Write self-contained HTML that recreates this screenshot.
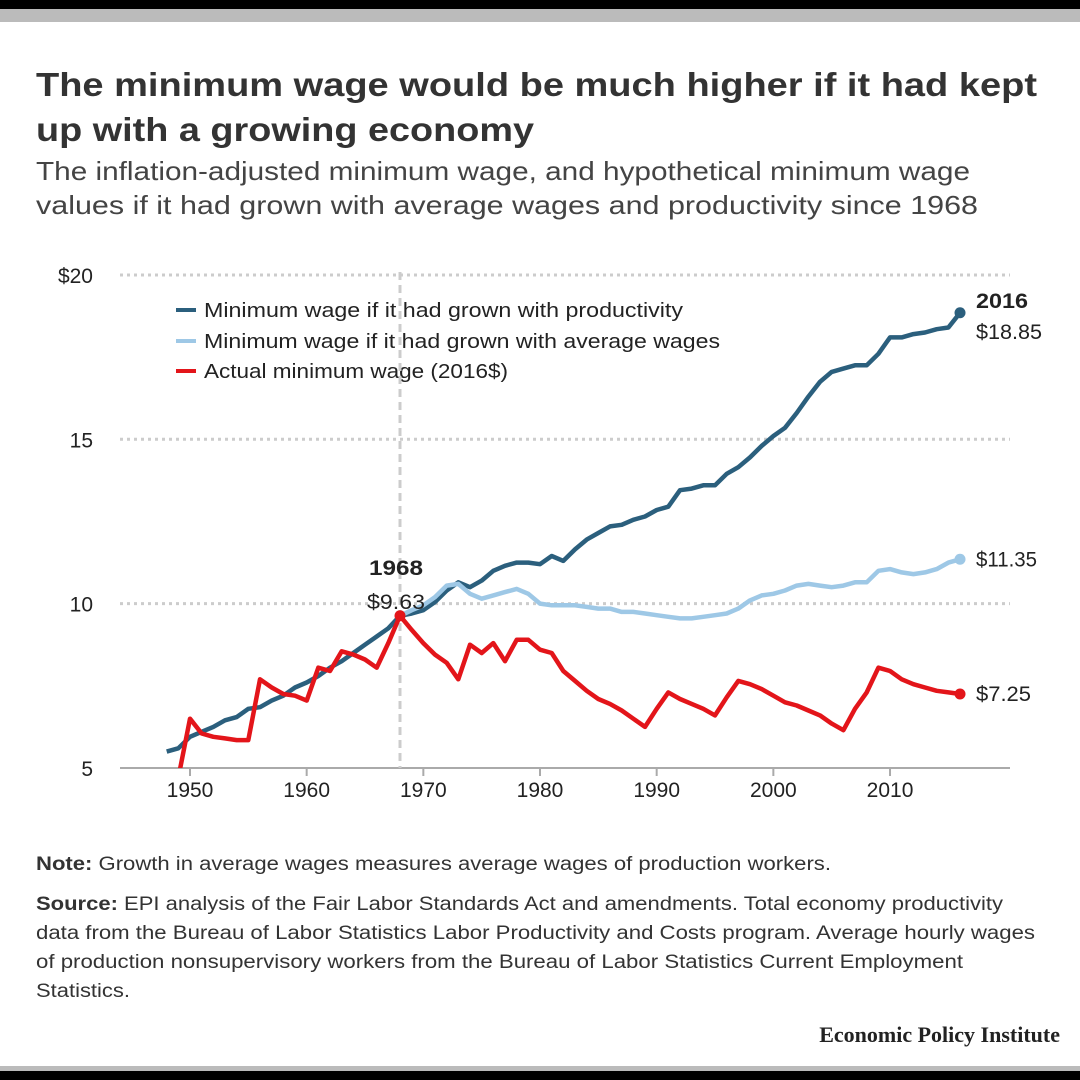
<!DOCTYPE html>
<html><head><meta charset="utf-8"><style>
body{margin:0;background:#fff;}
svg{display:block;font-family:"Liberation Sans",sans-serif;}
</style></head><body>
<svg id="c" width="1080" height="1080" xmlns="http://www.w3.org/2000/svg">
<rect x="0" y="0" width="1080" height="9" fill="#000"/>
<rect x="0" y="9" width="1080" height="13" fill="#bbb"/>
<rect x="0" y="1066" width="1080" height="5" fill="#bbb"/>
<rect x="0" y="1071" width="1080" height="9" fill="#000"/>
<text font-size="33" font-weight="bold" fill="#333"><tspan x="36" y="96" textLength="1001" lengthAdjust="spacingAndGlyphs">The minimum wage would be much higher if it had kept</tspan><tspan x="36" y="141" textLength="498" lengthAdjust="spacingAndGlyphs">up with a growing economy</tspan></text>
<text font-size="26" fill="#444"><tspan x="36" y="180" textLength="934" lengthAdjust="spacingAndGlyphs">The inflation-adjusted minimum wage, and hypothetical minimum wage</tspan><tspan x="36" y="214" textLength="942" lengthAdjust="spacingAndGlyphs">values if it had grown with average wages and productivity since 1968</tspan></text>
<g id="grid"></g>
<g id="axes"></g>
<g>
<rect x="160" y="290" width="580" height="106" fill="#fff" opacity="0.85"/>
<g><line x1="176" y1="310" x2="196" y2="310" stroke="#2b5f7d" stroke-width="4"/><text x="204" y="317" font-size="20" fill="#222" textLength="479" lengthAdjust="spacingAndGlyphs">Minimum wage if it had grown with productivity</text></g>
<g><line x1="176" y1="341" x2="196" y2="341" stroke="#9ec8e6" stroke-width="4"/><text x="204" y="348" font-size="20" fill="#222" textLength="516" lengthAdjust="spacingAndGlyphs">Minimum wage if it had grown with average wages</text></g>
<g><line x1="176" y1="371" x2="196" y2="371" stroke="#e3151a" stroke-width="4"/><text x="204" y="378" font-size="20" fill="#222" textLength="304" lengthAdjust="spacingAndGlyphs">Actual minimum wage (2016$)</text></g>
</g>
<g id="vline"></g>
<g id="series"></g>
<g id="labels"></g>
<text x="36" y="870" font-size="19" fill="#333" textLength="795" lengthAdjust="spacingAndGlyphs"><tspan font-weight="bold">Note:</tspan> Growth in average wages measures average wages of production workers.</text>
<text font-size="19" fill="#333"><tspan x="36" y="910" textLength="967" lengthAdjust="spacingAndGlyphs"><tspan font-weight="bold">Source:</tspan> EPI analysis of the Fair Labor Standards Act and amendments. Total economy productivity</tspan><tspan x="36" y="939" textLength="999" lengthAdjust="spacingAndGlyphs">data from the Bureau of Labor Statistics Labor Productivity and Costs program. Average hourly wages</tspan><tspan x="36" y="968" textLength="927" lengthAdjust="spacingAndGlyphs">of production nonsupervisory workers from the Bureau of Labor Statistics Current Employment</tspan><tspan x="36" y="997" textLength="94" lengthAdjust="spacingAndGlyphs">Statistics.</tspan></text>
<text x="1060" y="1042" text-anchor="end" font-family="Liberation Serif,serif" font-weight="bold" font-size="22" fill="#222">Economic Policy Institute</text>
</svg>
<script>
const prodYears=[1948,1949,1950,1951,1952,1953,1954,1955,1956,1957,1958,1959,1960,1961,1962,1963,1964,1965,1966,1967,1968,1969,1970,1971,1972,1973,1974,1975,1976,1977,1978,1979,1980,1981,1982,1983,1984,1985,1986,1987,1988,1989,1990,1991,1992,1993,1994,1995,1996,1997,1998,1999,2000,2001,2002,2003,2004,2005,2006,2007,2008,2009,2010,2011,2012,2013,2014,2015,2016];
const productivity=[5.5,5.6,5.95,6.1,6.25,6.45,6.55,6.8,6.85,7.05,7.2,7.45,7.6,7.8,8.05,8.25,8.5,8.75,9.0,9.25,9.63,9.7,9.8,10.05,10.4,10.65,10.5,10.7,11.0,11.15,11.25,11.25,11.2,11.45,11.3,11.65,11.95,12.15,12.35,12.4,12.55,12.65,12.85,12.95,13.45,13.5,13.6,13.6,13.95,14.15,14.45,14.8,15.1,15.35,15.8,16.3,16.75,17.05,17.15,17.25,17.25,17.6,18.1,18.1,18.2,18.25,18.35,18.4,18.85];
const avgYears=[1968,1969,1970,1971,1972,1973,1974,1975,1976,1977,1978,1979,1980,1981,1982,1983,1984,1985,1986,1987,1988,1989,1990,1991,1992,1993,1994,1995,1996,1997,1998,1999,2000,2001,2002,2003,2004,2005,2006,2007,2008,2009,2010,2011,2012,2013,2014,2015,2016];
const avgWages=[9.63,9.8,9.95,10.2,10.55,10.6,10.3,10.15,10.25,10.35,10.45,10.3,10.0,9.95,9.95,9.95,9.9,9.85,9.85,9.75,9.75,9.7,9.65,9.6,9.55,9.55,9.6,9.65,9.7,9.85,10.1,10.25,10.3,10.4,10.55,10.6,10.55,10.5,10.55,10.65,10.65,11.0,11.05,10.95,10.9,10.95,11.05,11.25,11.35];
const actYears=[1949,1950,1951,1952,1953,1954,1955,1956,1957,1958,1959,1960,1961,1962,1963,1964,1965,1966,1967,1968,1969,1970,1971,1972,1973,1974,1975,1976,1977,1978,1979,1980,1981,1982,1983,1984,1985,1986,1987,1988,1989,1990,1991,1992,1993,1994,1995,1996,1997,1998,1999,2000,2001,2002,2003,2004,2005,2006,2007,2008,2009,2010,2011,2012,2013,2014,2015,2016];
const actual=[4.7,6.5,6.05,5.95,5.9,5.85,5.85,7.7,7.45,7.25,7.2,7.05,8.05,7.95,8.55,8.45,8.3,8.05,8.8,9.63,9.2,8.8,8.45,8.2,7.7,8.75,8.5,8.8,8.25,8.9,8.9,8.6,8.5,7.95,7.65,7.35,7.1,6.95,6.75,6.5,6.25,6.8,7.3,7.1,6.95,6.8,6.6,7.15,7.65,7.55,7.4,7.2,7.0,6.9,6.75,6.6,6.35,6.15,6.8,7.3,8.05,7.95,7.7,7.55,7.45,7.35,7.3,7.25];
const yTicks=[5,10,15,20];
const yTickLabels=["5","10","15","$20"];
const xTicks=[1950,1960,1970,1980,1990,2000,2010];

const NS="http://www.w3.org/2000/svg";
const X=y=>190+(y-1950)*11.667;
const Y=v=>768-(v-5)*32.87;
function mk(tag,attrs,parent){const e=document.createElementNS(NS,tag);for(const k in attrs)e.setAttribute(k,attrs[k]);parent.appendChild(e);return e;}
const grid=document.getElementById('grid'),axes=document.getElementById('axes'),ser=document.getElementById('series'),lab=document.getElementById('labels'),vg=document.getElementById('vline');
yTicks.forEach((t,i)=>{
  if(t>5){const g=mk('line',{x1:120,x2:1010,y1:Y(t),y2:Y(t),stroke:'#ccc','stroke-width':3,'stroke-dasharray':'3 4'},grid);
  
  }
  const tx=mk('text',{x:93,y:Y(t)+8,'text-anchor':'end','font-size':21,fill:'#222'},axes);tx.textContent=yTickLabels[i];
  
  
});
const ax=mk('line',{x1:120,x2:1010,y1:768,y2:768,stroke:'#aaa','stroke-width':2},axes);


xTicks.forEach(t=>{
  mk('line',{x1:X(t),x2:X(t),y1:768,y2:776,stroke:'#aaa','stroke-width':2},axes);
  const tx=mk('text',{x:X(t),y:797,'text-anchor':'middle','font-size':21,fill:'#222'},axes);tx.textContent=t;
  
  
});
const vl=mk('line',{x1:X(1968),x2:X(1968),y1:272,y2:768,stroke:'#ccc','stroke-width':3,'stroke-dasharray':'8 5'},vg);


const defs=mk('defs',{},ser);const cp=mk('clipPath',{id:'clip'},defs);mk('rect',{x:100,y:250,width:950,height:518},cp);
function line(xs,vs,color,name){
  const d=xs.map((x,i)=>(i?'L':'M')+X(x).toFixed(1)+','+Y(vs[i]).toFixed(1)).join('');
  const p=mk('path',{d:d,fill:'none',stroke:color,'stroke-width':4.5,'stroke-linejoin':'round','clip-path':'url(#clip)'},ser);
  
  
  const n=xs.length-1;
  const c=mk('circle',{cx:X(xs[n]),cy:Y(vs[n]),r:5.5,fill:color},ser);
  
  
}
line(prodYears,productivity,'#2b5f7d','productivity-line');
line(avgYears,avgWages,'#9ec8e6','average-wages-line');
line(actYears,actual,'#e3151a','actual-wage-line');
const c68=mk('circle',{cx:X(1968),cy:Y(9.63),r:5.5,fill:'#e3151a'},ser);


function t(x,y,s,bold,name,anchor,w){const e=mk('text',{x:x,y:y,'font-size':21,fill:'#222','font-weight':bold?'bold':'normal','text-anchor':anchor||'start'},lab);e.textContent=s;
if(w){e.setAttribute('textLength',w);e.setAttribute('lengthAdjust','spacingAndGlyphs');}

}
t(X(1968)-4,Y(9.63)-41,'1968',true,'label-1968-year','middle',54);
t(X(1968)-4,Y(9.63)-7,'$'+(9.63).toFixed(2),false,'label-1968-value','middle',58);
t(976,Y(productivity[productivity.length-1])-5,'2016',true,'label-2016-year','start',52);
t(976,Y(productivity[productivity.length-1])+26,'$'+productivity[productivity.length-1].toFixed(2),false,'label-productivity-2016','start',66);
t(976,Y(avgWages[avgWages.length-1])+7,'$'+avgWages[avgWages.length-1].toFixed(2),false,'label-average-wages-2016','start',61);
t(976,Y(actual[actual.length-1])+7,'$'+actual[actual.length-1].toFixed(2),false,'label-actual-2016','start',55);
</script>
</body></html>
